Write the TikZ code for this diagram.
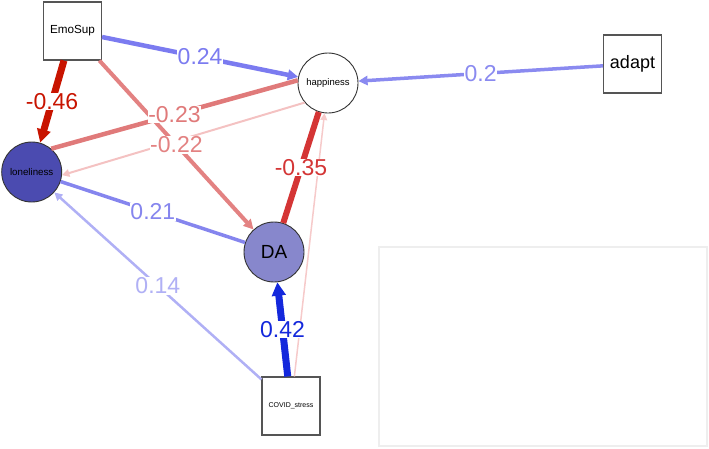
\documentclass[tikz,border=0pt]{standalone}
\usepackage{fontspec}
\setmainfont{Liberation Sans}
\usetikzlibrary{arrows.meta}
\definecolor{posA}{HTML}{7B7BF0}
\definecolor{posB}{HTML}{1428DC}
\definecolor{posC}{HTML}{8585EE}
\definecolor{posD}{HTML}{8A8AF0}
\definecolor{posE}{HTML}{B0B0F5}
\definecolor{negA}{HTML}{C81400}
\definecolor{negB}{HTML}{D43535}
\definecolor{negC}{HTML}{E07A7A}
\definecolor{negD}{HTML}{E38282}
\definecolor{negE}{HTML}{F4C2C2}
\definecolor{negF}{HTML}{F6CACA}
\definecolor{lonfill}{HTML}{4B4BB0}
\definecolor{dafill}{HTML}{8787CC}
\definecolor{boxgray}{HTML}{555555}
\definecolor{panelgray}{HTML}{EEEEEE}
\begin{document}
\begin{tikzpicture}[x=1pt,y=-1pt,
  boxnode/.style={draw=boxgray, line width=1.1pt, fill=white, minimum size=58pt, inner sep=0pt},
  circnode/.style={circle, draw=black!80, line width=0.9pt, minimum size=60pt, inner sep=0pt},
  arrowed/.style={-{Triangle[length=5pt 1.2,width=5pt 1.2]}},
  elabel/.style={fill=white, inner sep=0.5pt, font=\fontsize{23}{23}\selectfont},
]
\useasboundingbox (0,0) rectangle (709,448);
\draw[panelgray, line width=1.5pt] (379,247) rectangle (707,446);

% nodes
\node[boxnode, font=\fontsize{11.7}{12}\selectfont] (emo) at (72.5,31) {EmoSup};
\node[boxnode, font=\fontsize{18}{18}\selectfont] (adapt) at (632.5,64) {adapt};
\node[boxnode, font=\fontsize{7}{7}\selectfont] (covid) at (291,406) {COVID\_stress};
\node[circnode, fill=white, font=\fontsize{9.5}{9.5}\selectfont] (hap) at (328,83) {happiness};
\node[circnode, fill=lonfill, font=\fontsize{9.75}{9.75}\selectfont] (lon) at (31.7,172) {loneliness};
\node[circnode, fill=dafill, font=\fontsize{19}{19}\selectfont] (da) at (274,252) {DA};

% edges
\draw[arrowed, negF, line width=1.5pt] (covid) -- (hap);
\draw[arrowed, negE, line width=2pt] (hap.220) -- (lon.-6);
\draw[negC, line width=4.5pt] (lon.50) -- (hap.175);
\draw[arrowed, negD, line width=4pt] (emo) -- (da);
\draw[negB, line width=6pt] (da) -- (hap);
\draw[posC, line width=3.5pt] (lon) -- (da);
\draw[arrowed, posE, line width=2.5pt] (covid) -- (lon);
\draw[arrowed, posB, line width=7pt] (covid) -- (da);
\draw[arrowed, posA, line width=4.5pt] (emo) -- (hap);
\draw[arrowed, posD, line width=3.5pt] (adapt) -- (hap);
\draw[arrowed, negA, line width=7pt] (emo) -- (lon);

% edge labels
\path (emo) -- (hap) node[elabel, text=posA, pos=0.5] {0.24};
\path (adapt) -- (hap) node[elabel, text=posD, pos=0.5] {0.2};
\path (emo) -- (lon) node[elabel, text=negA, pos=0.5] {-0.46};
\path (lon.50) -- (hap.175) node[elabel, text=negC, pos=0.5] {-0.23};
\path (emo) -- (da) node[elabel, text=negD, pos=0.5] {-0.22};
\path (da) -- (hap) node[elabel, text=negB, pos=0.5] {-0.35};
\path (lon) -- (da) node[elabel, text=posC, pos=0.5] {0.21};
\path (covid) -- (lon) node[elabel, text=posE, pos=0.5] {0.14};
\path (covid) -- (da) node[elabel, text=posB, pos=0.5] {0.42};
\end{tikzpicture}
\end{document}
